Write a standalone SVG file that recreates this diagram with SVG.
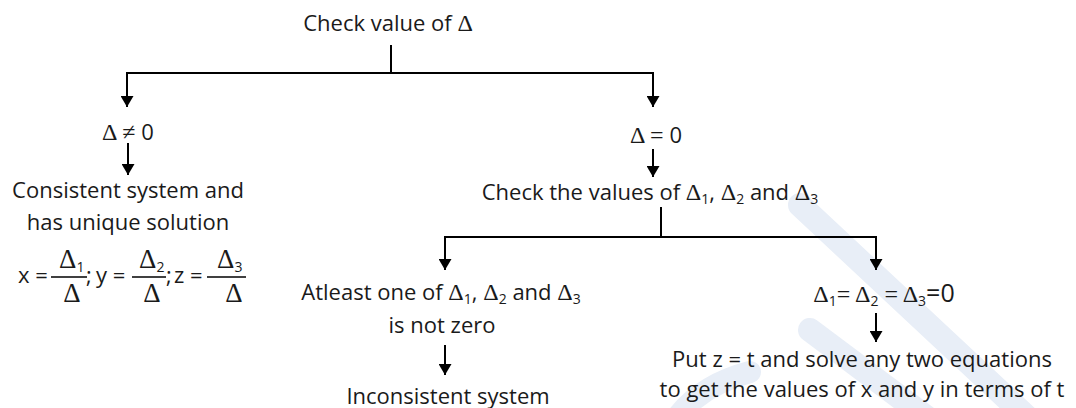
<svg xmlns="http://www.w3.org/2000/svg" width="1076" height="408" viewBox="0 0 1076 408">
<defs>
<style>
text{font-family:"Open Sans","Noto Sans","Liberation Sans",sans-serif;font-size:22px;fill:#1a1a1a}
.c{text-anchor:middle}
.d{font-family:"Liberation Serif","DejaVu Serif",serif;font-size:24px}
.f{font-family:"Liberation Serif","DejaVu Serif",serif;font-size:27px}
.s{font-size:14px}
.ln{fill:none;stroke:#000;stroke-width:2}
.ar{fill:none;stroke:#000;stroke-width:2;marker-end:url(#ah)}
.bar{stroke:#000;stroke-width:1.3}
.wm{fill:none;stroke:#e8eef7;stroke-linecap:round}
</style>
<marker id="ah" markerUnits="userSpaceOnUse" markerWidth="11" markerHeight="13" refX="11" refY="6.5" orient="auto">
<path d="M0,0 L11,6.5 L0,13 z" fill="#000"/>
</marker>
</defs>
<rect width="1076" height="408" fill="#fff"/>
<g id="watermark">
<path class="wm" stroke-width="24" d="M800,205 L1030,420"/>
<path class="wm" stroke-width="24" d="M810,330 L930,420"/>
<path class="wm" stroke-width="22" d="M675,420 Q700,385 750,372"/>
</g>
<g id="connectors">
<path class="ln" d="M391,45 V73 M127,73 H653"/>
<path class="ar" d="M127,72 V107"/>
<path class="ar" d="M653,72 V107"/>
<path class="ar" d="M128,143 V175"/>
<path class="ar" d="M653,149 V177"/>
<path class="ln" d="M661,207 V237 M445,237 H876"/>
<path class="ar" d="M445,236 V270"/>
<path class="ar" d="M876,236 V270"/>
<path class="ar" d="M445,345 V375"/>
<path class="ar" d="M876,313 V342"/>
</g>
<g id="root"><text class="c" x="388" y="31">Check value of <tspan class="d">Δ</tspan></text></g>
<g id="ne"><text class="c" x="128" y="140"><tspan class="d">Δ ≠ </tspan>0</text></g>
<g id="consistent">
<text class="c" x="128" y="198">Consistent system and</text>
<text class="c" x="128" y="230">has unique solution</text>
<text x="18" y="283">x =</text>
<line class="bar" x1="51" y1="277" x2="87" y2="277"/>
<text x="59" y="268"><tspan class="f">Δ</tspan><tspan class="s" dy="4">1</tspan></text>
<text class="f c" x="72" y="302">Δ</text>
<text x="86" y="283">;</text>
<text x="96" y="283">y =</text>
<line class="bar" x1="132" y1="277" x2="166" y2="277"/>
<text x="139" y="268"><tspan class="f">Δ</tspan><tspan class="s" dy="4">2</tspan></text>
<text class="f c" x="152" y="302">Δ</text>
<text x="166" y="283">;</text>
<text x="174" y="283">z =</text>
<line class="bar" x1="207" y1="277" x2="246" y2="277"/>
<text x="217" y="268"><tspan class="f">Δ</tspan><tspan class="s" dy="4">3</tspan></text>
<text class="f c" x="234" y="302">Δ</text>
</g>
<g id="eq"><text class="c" x="656" y="143"><tspan class="d">Δ = </tspan>0</text></g>
<g id="check"><text class="c" x="650" y="200">Check the values of <tspan class="d">Δ</tspan><tspan class="s" dy="4">1</tspan><tspan dy="-4">, </tspan><tspan class="d">Δ</tspan><tspan class="s" dy="4">2</tspan><tspan dy="-4"> and </tspan><tspan class="d">Δ</tspan><tspan class="s" dy="4">3</tspan></text></g>
<g id="atleast">
<text class="c" x="441" y="300">Atleast one of <tspan class="d">Δ</tspan><tspan class="s" dy="4">1</tspan><tspan dy="-4">, </tspan><tspan class="d">Δ</tspan><tspan class="s" dy="4">2</tspan><tspan dy="-4"> and </tspan><tspan class="d">Δ</tspan><tspan class="s" dy="4">3</tspan></text>
<text class="c" x="442" y="333">is not zero</text>
</g>
<g id="inconsistent"><text class="c" x="448" y="404">Inconsistent system</text></g>
<g id="allzero"><text class="c" x="884" y="302"><tspan class="d">Δ</tspan><tspan class="s" dy="4">1</tspan><tspan class="d" dy="-4">= Δ</tspan><tspan class="s" dy="4">2</tspan><tspan class="d" dy="-4"> = Δ</tspan><tspan class="s" dy="4">3</tspan><tspan dy="-4" font-size="25">=0</tspan></text></g>
<g id="put">
<text class="c" x="862" y="367">Put z = t and solve any two equations</text>
<text class="c" x="862" y="397">to get the values of x and y in terms of t</text>
</g>
</svg>
